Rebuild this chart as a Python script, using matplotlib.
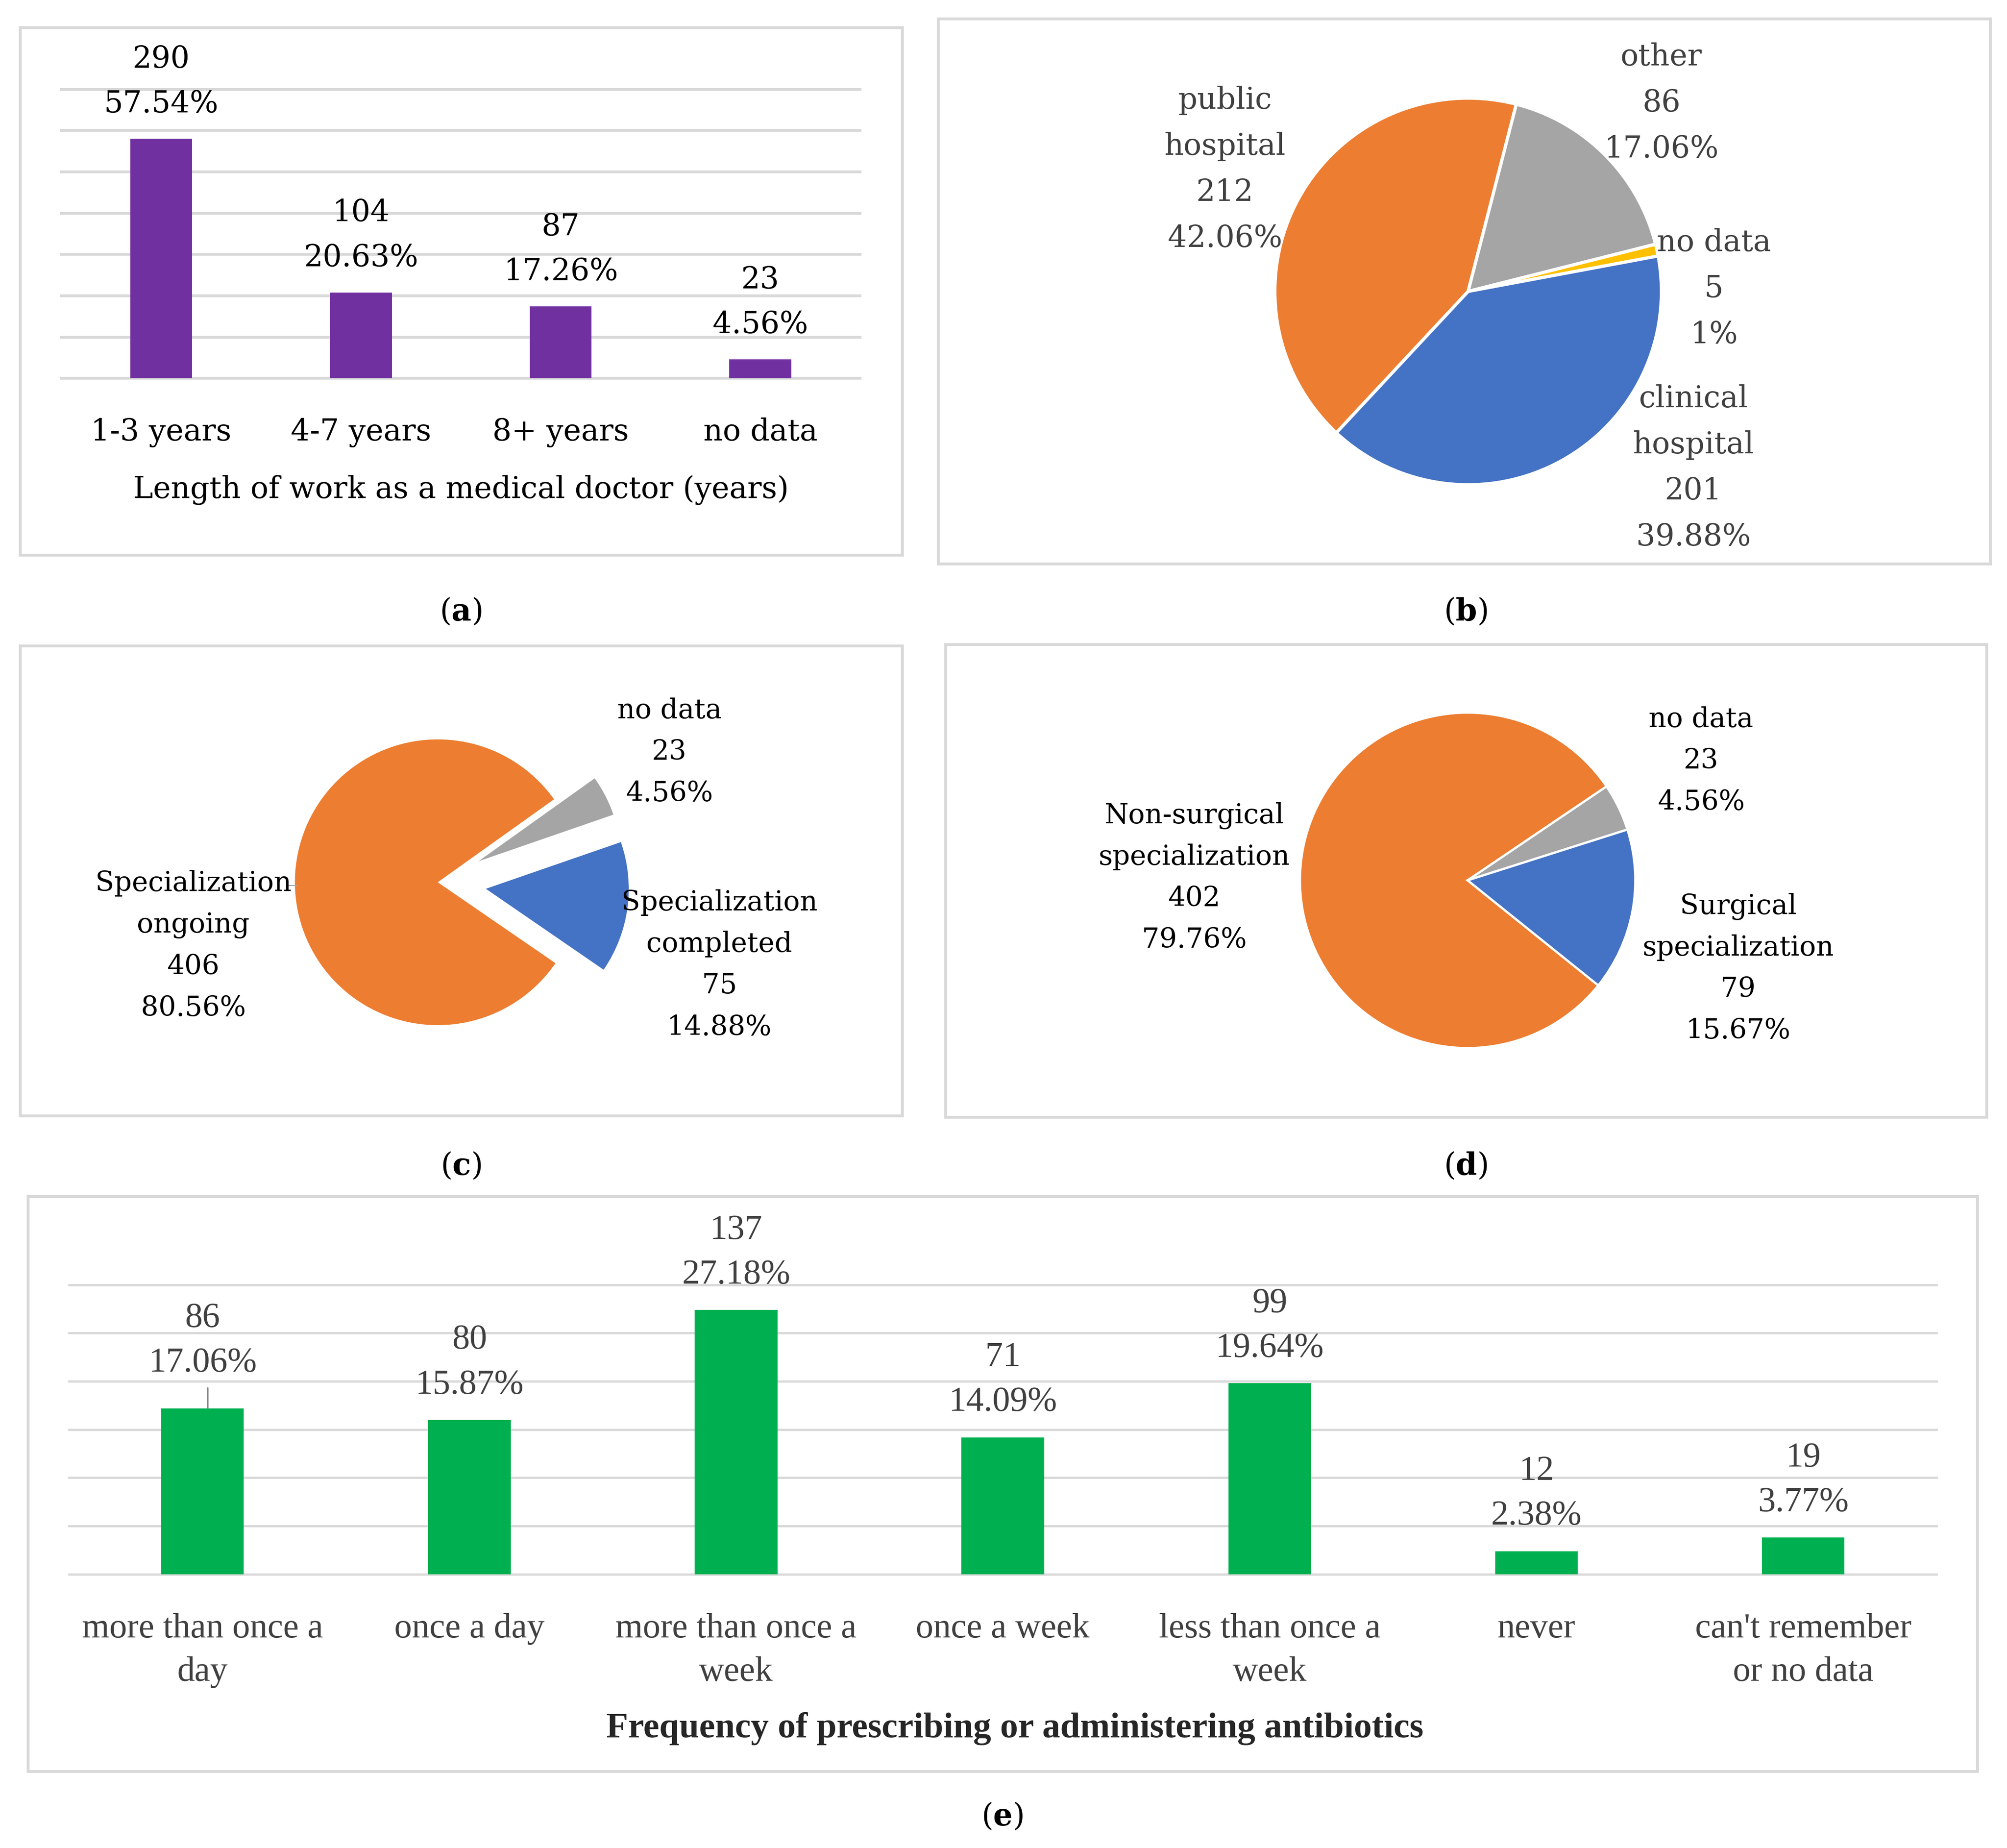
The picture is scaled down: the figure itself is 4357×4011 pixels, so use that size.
import matplotlib
matplotlib.use('Agg')
import matplotlib.pyplot as plt
from matplotlib.patches import Rectangle
from matplotlib.transforms import blended_transform_factory

# ---------------- data ----------------
a_categories = ['1-3 years', '4-7 years', '8+ years', 'no data']
a_counts = [290, 104, 87, 23]
a_percents = ['57.54%', '20.63%', '17.26%', '4.56%']
a_xlabel = 'Length of work as a medical doctor (years)'

b_labels = ['public\nhospital', 'other', 'no data', 'clinical\nhospital']
b_counts = [212, 86, 5, 201]
b_percents = ['42.06%', '17.06%', '1%', '39.88%']

c_labels = ['Specialization\nongoing', 'no data', 'Specialization\ncompleted']
c_counts = [406, 23, 75]
c_percents = ['80.56%', '4.56%', '14.88%']

d_labels = ['Non-surgical\nspecialization', 'no data', 'Surgical\nspecialization']
d_counts = [402, 23, 79]
d_percents = ['79.76%', '4.56%', '15.67%']

e_categories = ['more than once a\nday', 'once a day', 'more than once a\nweek',
                'once a week', 'less than once a\nweek', 'never', "can't remember\nor no data"]
e_counts = [86, 80, 137, 71, 99, 12, 19]
e_percents = ['17.06%', '15.87%', '27.18%', '14.09%', '19.64%', '2.38%', '3.77%']
e_xlabel = 'Frequency of prescribing or administering antibiotics'

captions = ['a', 'b', 'c', 'd', 'e']

# ---------------- layout helpers ----------------
W, H, DPI = 4357, 4012, 100
SX = W / 1568.0
DW, DH = 1568.0, H / SX

plt.rcParams['mathtext.fontset'] = 'custom'
plt.rcParams['mathtext.rm'] = 'DejaVu Serif'
plt.rcParams['mathtext.bf'] = 'DejaVu Serif:bold'

fig = plt.figure(figsize=(W / DPI, H / DPI), dpi=DPI)
fig.patch.set_facecolor('white')


def fx(x):
    return x / DW


def fy(y):
    return 1 - y / DH


def pts(d):
    return d * SX * 72.0 / DPI


SERIF = 'DejaVu Serif'
ESERIF = 'Liberation Serif'
BASE = 9  # displayed px from visual centre to baseline


def ftext(x, y, s, size, color='black', family=SERIF, weight='normal'):
    fig.text(fx(x), fy(y + BASE), s, ha='center', va='baseline', fontsize=size,
             color=color, family=family, fontweight=weight)


def flines(x, y0, lines, dy, size, color='black', family=SERIF):
    for k, s in enumerate(lines):
        ftext(x, y0 + k * dy, s, size, color, family)


def box(x0, y0, x1, y1):
    fig.patches.append(Rectangle((fx(x0), fy(y1)), (x1 - x0) / DW, (y1 - y0) / DH,
                                 transform=fig.transFigure, fill=False,
                                 edgecolor='#d9d9d9', lw=4.5, zorder=0))


def caption(x, y, letter):
    ftext(x, y, r'($\mathbf{%s}$)' % letter, 48)


# ---------------- panel frames ----------------
box(16, 22, 705, 434)
box(733, 15, 1555, 441)
box(16, 505, 705, 872)
box(739, 504, 1552, 873)
box(22, 935, 1545, 1384)

caption(360, 476, captions[0])
caption(1145, 476, captions[1])
caption(360, 909, captions[2])
caption(1145, 909, captions[3])
caption(783, 1417, captions[4])


# ---------------- bar panels ----------------
def bar_panel(x0, x1, ybase, ytop, cats, counts, percents, ymax, ystep, color,
              size, tcolor, family, tick_y, tick_dy, gridlw, lifts):
    ax = fig.add_axes([fx(x0), fy(ybase), (x1 - x0) / DW, (ybase - ytop) / DH])
    n = len(cats)
    xs = list(range(n))
    ax.bar(xs, counts, width=0.31, color=color, zorder=3)
    ax.set_xlim(-0.5, n - 0.5)
    ax.set_ylim(0, ymax)
    ax.set_yticks(list(range(0, ymax + 1, ystep)))
    ax.set_xticks([])
    ax.tick_params(axis='y', length=0, labelleft=False)
    ax.set_axisbelow(True)
    ax.grid(axis='y', color='#d9d9d9', lw=gridlw, clip_on=False)
    for s in ax.spines.values():
        s.set_visible(False)
    tr = blended_transform_factory(ax.transData, fig.transFigure)
    for i in xs:
        for k, line in enumerate(cats[i].split('\n')):
            ax.text(i, fy(tick_y + k * tick_dy + BASE), line, transform=tr, ha='center',
                    va='baseline', fontsize=size, color=tcolor, family=family)
        lift = lifts[i]
        ax.annotate(percents[i], xy=(i, counts[i]), xytext=(0, pts(21 + lift)),
                    textcoords='offset points', ha='center', va='baseline',
                    fontsize=size, color=tcolor, family=family)
        ax.annotate(str(counts[i]), xy=(i, counts[i]), xytext=(0, pts(56 + lift)),
                    textcoords='offset points', ha='center', va='baseline',
                    fontsize=size, color=tcolor, family=family)
        if lift > 0:
            ax.annotate('', xy=(i + 0.02, counts[i]), xytext=(0, pts(16)),
                        textcoords='offset points',
                        arrowprops=dict(arrowstyle='-', color='#7f7f7f', lw=2,
                                        shrinkA=0, shrinkB=0))
    return ax


bar_panel(48, 672, 296, 70, a_categories, a_counts, a_percents, 350, 50, '#7030A0',
          47, 'black', SERIF, 335, 34, 4.5, [0, 0, 0, 0])
ftext(360, 380, a_xlabel, 47)

bar_panel(54, 1513, 1230, 1004, e_categories, e_counts, e_percents, 150, 25, '#00B050',
          55, '#404040', ESERIF, 1270, 34, 3.5, [8, 0, 0, 0, 0, 0, 0])
ftext(793, 1348, e_xlabel, 56, color='#262626', family=ESERIF, weight='bold')


# ---------------- pie panels ----------------
def pie_axes(cx, cy, r, k):
    s = 2 * k * r
    ax = fig.add_axes([fx(cx - k * r), fy(cy + k * r), s / DW, s / DH])
    return ax


def finish(ax, k):
    ax.set_xlim(-k, k)
    ax.set_ylim(-k, k)
    ax.set_aspect('equal')
    ax.axis('off')


# (b)
axb = pie_axes(1147, 228, 151, 1.15)
axb.pie(b_counts, colors=['#ED7D31', '#A5A5A5', '#FFC000', '#4472C4'], startangle=-133,
        counterclock=False, radius=1,
        wedgeprops=dict(edgecolor='white', linewidth=5, joinstyle='miter'))
finish(axb, 1.15)
b_pos = [(957, 76), (1298, 42), (1339, 187), (1323, 309)]
for lab, cnt, pct, (x, y) in zip(b_labels, b_counts, b_percents, b_pos):
    flines(x, y, lab.split('\n') + [str(cnt), pct], 36, 47, '#404040')

# (c)
axc = pie_axes(342, 689.5, 111.6, 1.6)
axc.pie(c_counts, colors=['#ED7D31', '#A5A5A5', '#4472C4'], startangle=-34.5,
        counterclock=False, radius=1, explode=[0, 0.32, 0.34],
        wedgeprops=dict(linewidth=0))
finish(axc, 1.6)
c_pos = [(151, 687), (523, 552), (562, 702)]
for lab, cnt, pct, (x, y) in zip(c_labels, c_counts, c_percents, c_pos):
    flines(x, y, lab.split('\n') + [str(cnt), pct], 32.5, 43, 'black')
fig.add_artist(plt.Line2D([fx(224), fx(232)], [fy(692), fy(692)], color='#a6a6a6',
                          lw=1.5, transform=fig.transFigure))

# (d)
axd = pie_axes(1146.6, 688, 131, 1.1)
axd.pie(d_counts, colors=['#ED7D31', '#A5A5A5', '#4472C4'], startangle=-38.8,
        counterclock=False, radius=1,
        wedgeprops=dict(edgecolor='white', linewidth=3.5, joinstyle='miter'))
finish(axd, 1.1)
d_pos = [(933, 634), (1329, 559), (1358, 705)]
for lab, cnt, pct, (x, y) in zip(d_labels, d_counts, d_percents, d_pos):
    flines(x, y, lab.split('\n') + [str(cnt), pct], 32.4, 43, 'black')

fig.savefig('out.png', dpi=DPI, facecolor='white')
